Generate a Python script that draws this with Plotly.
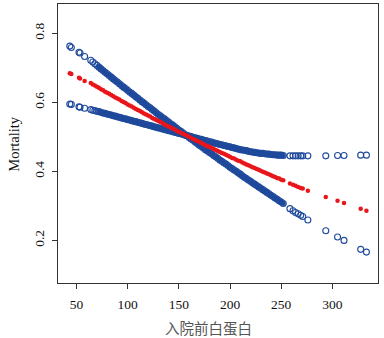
import plotly.graph_objects as go

# x values (入院前白蛋白)
x_start = [43.5, 45, 52.5, 53.5, 58]
x_dense = [64, 66, 68, 70, 72, 74, 76, 78, 80, 82, 84, 86, 88, 90, 92, 94, 96, 98,
           100, 102, 104, 106, 108, 110, 112, 114, 116, 118, 120, 122, 124, 126, 128,
           130, 132, 134, 136, 138, 140, 142, 144, 146, 148, 150, 152, 154, 156, 158,
           160, 162, 164, 166, 168, 170, 172, 174, 176, 178, 180, 182, 184, 186, 188,
           190, 192, 194, 196, 198, 200, 202, 204, 206, 208, 210, 212, 214, 216, 218,
           220, 222, 224, 226, 228, 230, 232, 234, 236, 238, 240, 242, 244, 246, 248,
           250, 252]
x_tail = [258.5, 261.5, 264, 266.5, 269, 271, 276, 293.5, 305, 311.3, 327.6, 333.2]
x_vals = x_start + x_dense + x_tail

# Blue series crossing from high to low
band_a = [0.763, 0.759, 0.745, 0.743, 0.733,
          0.722, 0.717, 0.712, 0.707, 0.702, 0.697, 0.692, 0.687, 0.683, 0.678,
          0.673, 0.668, 0.663, 0.659, 0.654, 0.649, 0.644, 0.640, 0.635, 0.630,
          0.626, 0.621, 0.616, 0.612, 0.607, 0.602, 0.598, 0.593, 0.588, 0.584,
          0.579, 0.575, 0.570, 0.565, 0.561, 0.556, 0.552, 0.547, 0.543, 0.538,
          0.534, 0.529, 0.525, 0.520, 0.516, 0.512, 0.507, 0.503, 0.498, 0.494,
          0.490, 0.485, 0.481, 0.476, 0.472, 0.468, 0.463, 0.459, 0.455, 0.451,
          0.446, 0.442, 0.438, 0.433, 0.429, 0.425, 0.421, 0.417, 0.412, 0.408,
          0.404, 0.400, 0.396, 0.392, 0.387, 0.383, 0.379, 0.375, 0.371, 0.367,
          0.363, 0.359, 0.355, 0.351, 0.347, 0.343, 0.339, 0.335, 0.331, 0.327,
          0.323, 0.319, 0.315, 0.311, 0.307,
          0.292, 0.286, 0.281, 0.277, 0.273, 0.269, 0.259, 0.228, 0.210, 0.200, 0.174, 0.166]

# Red estimate
estimate = [0.684, 0.682, 0.671, 0.669, 0.662,
            0.656, 0.652, 0.649, 0.645, 0.642, 0.638, 0.635, 0.631, 0.628, 0.625,
            0.621, 0.618, 0.614, 0.611, 0.608, 0.604, 0.601, 0.598, 0.594, 0.591,
            0.588, 0.584, 0.581, 0.578, 0.575, 0.571, 0.568, 0.565, 0.562, 0.559,
            0.555, 0.552, 0.549, 0.546, 0.543, 0.540, 0.536, 0.533, 0.530, 0.527,
            0.524, 0.521, 0.518, 0.515, 0.512, 0.509, 0.506, 0.503, 0.500, 0.497,
            0.494, 0.491, 0.488, 0.485, 0.482, 0.479, 0.476, 0.473, 0.471, 0.468,
            0.465, 0.462, 0.459, 0.456, 0.453, 0.451, 0.448, 0.445, 0.442, 0.439,
            0.437, 0.434, 0.431, 0.429, 0.426, 0.423, 0.420, 0.418, 0.415, 0.412,
            0.410, 0.407, 0.405, 0.402, 0.399, 0.397, 0.394, 0.392, 0.389, 0.386,
            0.384, 0.381, 0.379, 0.376, 0.374,
            0.365, 0.361, 0.358, 0.355, 0.352, 0.350, 0.344, 0.326, 0.315, 0.308, 0.292, 0.286]

# Blue series flattening out
band_b = [0.595, 0.594, 0.587, 0.586, 0.583,
          0.579, 0.577, 0.576, 0.574, 0.573, 0.571, 0.569, 0.568, 0.566, 0.565,
          0.563, 0.561, 0.560, 0.558, 0.557, 0.555, 0.553, 0.552, 0.550, 0.549,
          0.547, 0.545, 0.544, 0.542, 0.541, 0.539, 0.537, 0.536, 0.534, 0.533,
          0.531, 0.529, 0.528, 0.526, 0.525, 0.523, 0.521, 0.520, 0.518, 0.517,
          0.515, 0.513, 0.512, 0.510, 0.509, 0.507, 0.505, 0.504, 0.502, 0.501,
          0.499, 0.497, 0.496, 0.494, 0.493, 0.491, 0.489, 0.488, 0.486, 0.485,
          0.483, 0.481, 0.480, 0.478, 0.477, 0.475, 0.474, 0.472, 0.471, 0.469,
          0.468, 0.466, 0.465, 0.463, 0.462, 0.461, 0.460, 0.458, 0.457, 0.456,
          0.455, 0.454, 0.453, 0.452, 0.452, 0.451, 0.450, 0.450, 0.449, 0.448,
          0.448, 0.447, 0.447, 0.447, 0.446,
          0.445, 0.445, 0.445, 0.445, 0.445, 0.445, 0.445, 0.445, 0.446, 0.446, 0.447, 0.447]

x_ticks = [50, 100, 150, 200, 250, 300]
y_ticks = [0.2, 0.4, 0.6, 0.8]
y_tick_text = ["0.2", "0.4", "0.6", "0.8"]
x_title = "入院前白蛋白"
y_title = "Mortality"

BLUE = "#1F4A9C"
RED = "#E8161B"

n0 = len(x_start)
n1 = n0 + len(x_dense)

fig = go.Figure()
for ys in (band_b, band_a):
    # fill for the densely overlapping region
    fig.add_trace(go.Scatter(
        x=x_vals[n0 + 4:n1], y=ys[n0 + 4:n1], mode="markers",
        marker=dict(symbol="circle", size=5, color=BLUE, line=dict(width=0)),
        hoverinfo="skip", showlegend=False))
    fig.add_trace(go.Scatter(
        x=x_vals, y=ys, mode="markers",
        marker=dict(symbol="circle-open", size=6, color=BLUE, line=dict(width=1.1, color=BLUE)),
        hoverinfo="skip", showlegend=False))
fig.add_trace(go.Scatter(
    x=x_vals, y=estimate, mode="markers",
    marker=dict(symbol="circle", size=4.5, color=RED, line=dict(width=0)),
    hoverinfo="skip", showlegend=False))

serif = "Liberation Serif, Times New Roman, serif"
axis_common = dict(
    ticks="outside", ticklen=5, tickcolor="#333", tickwidth=1,
    showline=True, linecolor="#333", linewidth=1, mirror=True,
    showgrid=False, zeroline=False, automargin=False,
    tickfont=dict(family=serif, size=13.5, color="#111"),
)
fig.update_layout(
    width=384, height=338,
    margin=dict(l=58, r=6, t=4, b=55),
    paper_bgcolor="white", plot_bgcolor="white",
    font=dict(family=serif, size=14, color="#222"),
    xaxis=dict(range=[32.0, 344.5], tickvals=x_ticks, ticklabelstandoff=4, **axis_common),
    yaxis=dict(range=[0.0765, 0.885], tickvals=y_ticks, ticktext=y_tick_text,
               tickangle=-90, ticklabelstandoff=3, **axis_common),
    annotations=[
        dict(text=x_title, xref="paper", yref="paper", x=0.469, y=-0.158,
             xanchor="center", yanchor="middle", showarrow=False,
             font=dict(family="Noto Sans CJK SC", size=14.5, color="#555")),
        dict(text=y_title, xref="paper", yref="paper", x=-0.14, y=0.5,
             xanchor="center", yanchor="middle", showarrow=False, textangle=-90,
             font=dict(family=serif, size=14.5, color="#111")),
    ],
)

fig.write_html(
    "out.html",
    config={"displayModeBar": False},
    post_script="document.body.style.margin='0';document.body.style.overflow='hidden';",
)
